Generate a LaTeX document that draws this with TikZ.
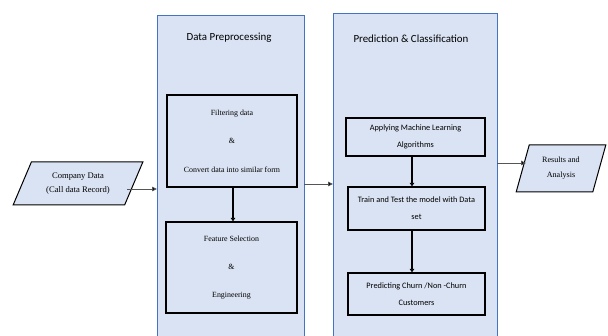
\documentclass[tikz,border=0pt]{standalone}
\usepackage{fontspec}
\setmainfont{Liberation Serif}
\newfontfamily\calfont{Carlito}
\usetikzlibrary{arrows.meta,shapes.geometric}
\definecolor{boxfill}{HTML}{DAE3F3}
\definecolor{boxline}{HTML}{4472C4}
\definecolor{conn}{HTML}{555555}
\begin{document}
\begin{tikzpicture}[x=1pt,y=-1pt,
  bigbox/.style={draw=boxline,line width=0.8pt,fill=boxfill,anchor=north west,inner sep=0pt},
  stepbox/.style={draw=black,line width=1.3pt,fill=boxfill,inner sep=0pt,align=center},
  iobox/.style={trapezium,trapezium stretches=true,draw=black,line width=1pt,fill=boxfill,inner sep=0pt,align=center},
  title/.style={font=\calfont\fontsize{10.9}{13}\selectfont},
  mainarrow/.style={draw=conn,line width=0.8pt,-{Triangle[length=5pt,width=4.5pt,fill=black]}},
  innerarrow/.style={draw=black,line width=1.8pt,-{Triangle[length=3.5pt,width=4.5pt]}}]
\useasboundingbox (0,0) rectangle (608,336);
\clip (0,0) rectangle (608,336);
% big boxes
\node[bigbox,minimum width=147pt,minimum height=340pt] (pre) at (157,15) {};
\node[bigbox,minimum width=164pt,minimum height=340pt] (pred) at (333,13) {};
\node[title] (pretitle) at (229,38) {Data Preprocessing};
\node[title] (predtitle) at (411,39) {Prediction \& Classification};
% left inner boxes
\node[stepbox,minimum width=130pt,minimum height=92pt,font=\fontsize{7.9}{28.5}\selectfont] (filt) at (232,141)
  {Filtering data\\\&\\Convert data into similar form};
\node[stepbox,minimum width=131pt,minimum height=91pt,font=\fontsize{7.9}{28}\selectfont] (feat) at (231.5,267.5)
  {Feature Selection\\\&\\Engineering};
% right inner boxes
\node[stepbox,minimum width=139pt,minimum height=38pt,font=\calfont\fontsize{8.3}{17}\selectfont] (algo) at (415.5,137)
  {Applying Machine Learning\\Algorithms};
\node[stepbox,minimum width=137pt,minimum height=43pt,font=\calfont\fontsize{8.3}{17}\selectfont] (train) at (416.5,208.5)
  {Train and Test the model with Data\\set};
\node[stepbox,minimum width=137pt,minimum height=42pt,font=\calfont\fontsize{8.3}{17}\selectfont] (churn) at (416.5,294)
  {Predicting Churn /Non -Churn\\Customers};
% input / output
\node[iobox,trapezium left angle=60,trapezium right angle=120,minimum width=130pt,minimum height=43pt,
  font=\fontsize{8.6}{14}\selectfont] (cd) at (78,183.5) {Company Data\\(Call data Record)};
\node[iobox,trapezium left angle=71,trapezium right angle=109,minimum width=90pt,minimum height=47pt,
  font=\fontsize{8.1}{15}\selectfont] (res) at (561,168.5) {Results and\\Analysis};
% connectors
\coordinate (cdout) at (127,189);
\draw[mainarrow] (cdout) -- (cdout -| pre.west);
\coordinate (preout) at (304,184);
\draw[mainarrow] (preout) -- (preout -| pred.west);
\coordinate (predout) at (497,163);
\coordinate (resin) at (526,163);
\draw[mainarrow] (predout) -- (resin);
\coordinate (filtout) at (233,187);
\coordinate (algoout) at (412,156);
\coordinate (trainout) at (412,230);
\draw[innerarrow] (filtout) -- (filtout |- feat.north);
\draw[innerarrow] (algoout) -- (algoout |- train.north);
\draw[innerarrow] (trainout) -- (trainout |- churn.north);
\end{tikzpicture}
\end{document}
